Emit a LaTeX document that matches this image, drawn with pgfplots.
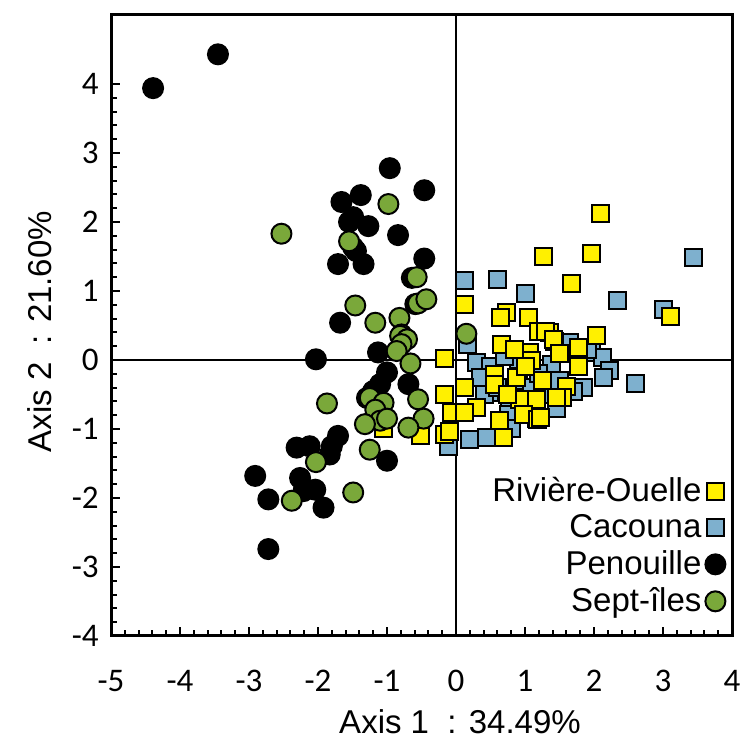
\documentclass[border=0pt]{standalone}
\usepackage{pgfplots}
\pgfplotsset{compat=1.18}
\usepackage{fontspec}
\setmainfont{Liberation Sans}
\newfontfamily\calibri{Carlito}
\definecolor{rouelle}{RGB}{255,240,0}
\definecolor{cacouna}{RGB}{126,176,206}
\definecolor{septiles}{RGB}{122,168,58}

\begin{document}
\begin{tikzpicture}
\begin{axis}[name=ax, scale only axis, width=310.5pt, height=310.5pt,
  xmin=-5, xmax=4, ymin=-4, ymax=5,
  xtick={-5,...,4}, ytick={-4,...,4},
  xticklabels={-5,-4,-3,-2,-1,0,1,2,3,4},
  yticklabels={-4,-3,-2,-1,0,1,2,3,4},
  minor tick num=4,
  tick align=inside, xtick pos=bottom, ytick pos=left,
  major tick length=4.5pt, minor tick length=3pt,
  tick style={black, line width=1pt},
  axis line style={line width=1.5pt},
  extra x ticks={0}, extra y ticks={0}, extra x tick labels={}, extra y tick labels={},
  extra tick style={grid=major, major grid style={black, line width=1pt}},
  ticklabel style={font=\calibri\fontsize{16.5}{16.5}\selectfont},
  xticklabel style={anchor=north, inner sep=0pt, yshift=-17pt},
  yticklabel style={anchor=east, inner sep=0pt, xshift=-6pt},
  xlabel={Axis 1\ \ : 34.49\%},
  xlabel style={at={(axis description cs:0.562,-0.138)}, anchor=center, font=\fontsize{16.5}{16.5}\selectfont},
  ylabel={Axis 2\ \ : 21.60\%},
  ylabel style={at={(axis description cs:-0.115,0.49)}, anchor=center, font=\fontsize{16.5}{16.5}\selectfont},
  legend style={draw=none, fill=none, at={(rel axis cs:0.99,0.027)}, anchor=south east,
    font=\fontsize{16.5}{16.5}\selectfont, row sep=1pt, inner sep=0pt},
  legend cell align=right,
  legend plot pos=right,
]
\addlegendimage{only marks, mark=square*, mark size=4.25pt, mark options={fill=rouelle, draw=black, line width=1pt}}
\addlegendentry{Rivière-Ouelle}
\addlegendimage{only marks, mark=square*, mark size=4.25pt, mark options={fill=cacouna, draw=black, line width=1pt}}
\addlegendentry{Cacouna}
\addlegendimage{only marks, mark=*, mark size=5pt, mark options={fill=black, draw=black, line width=1pt}}
\addlegendentry{Penouille}
\addlegendimage{only marks, mark=*, mark size=5pt, mark options={fill=septiles, draw=black, line width=1pt}}
\addlegendentry{Sept-îles}

% Cacouna
\addplot[only marks, mark=square*, mark size=4.25pt, mark options={fill=cacouna, draw=black, line width=1pt}, forget plot]
coordinates {
(0.12,1.15)(0.60,1.16)(1.00,0.97)(2.34,0.86)(3.00,0.73)(3.44,1.49)(0.16,0.23)(1.65,0.25)
(1.97,0.11)(2.12,0.03)(2.23,-0.15)(2.14,-0.26)(2.60,-0.34)(0.29,-0.04)(1.38,-0.06)(0.49,-0.47)
(0.78,-0.74)(0.42,-0.50)(0.76,-0.79)(0.81,-1.00)(0.20,-1.15)(0.44,-1.13)(-0.11,-1.25)(0.9,-0.3)
(1.1,-0.4)(1.3,-0.5)(1.5,-0.3)(0.6,-0.4)(1.2,-0.2)(0.5,-0.1)(0.9,0.0)(1.85,-0.4)(1.7,-0.45)
(1.9,0.15)(0.35,-0.25)(0.7,0.05)(1.45,-0.7)(1.05,-0.62)
};
% Riviere-Ouelle
\addplot[only marks, mark=square*, mark size=4.25pt, mark options={fill=rouelle, draw=black, line width=1pt}, forget plot]
coordinates {
(2.10,2.13)(1.27,1.50)(1.97,1.55)(1.67,1.11)(0.13,0.80)(0.73,0.69)(0.64,0.61)(1.05,0.61)
(1.19,0.41)(1.36,0.40)(2.03,0.36)(0.66,0.23)(1.07,0.11)(1.43,0.27)(1.77,0.18)(-0.16,0.02)
(1.77,-0.09)(1.10,-0.01)(0.56,-0.21)(0.88,-0.26)(1.60,-0.38)(1.55,-0.55)(0.92,-0.57)(-0.16,-0.50)
(0.13,-0.40)(0.30,-0.69)(-0.06,-0.76)(0.13,-0.76)(0.63,-0.88)(1.17,-0.85)(3.11,0.63)(0.56,-0.35)
(1.17,-0.57)(0.98,-0.79)(1.18,-0.86)(-0.16,-1.08)(-0.09,-1.03)(0.69,-1.13)(1.29,0.42)(1.41,0.30)
(1.46,-0.55)(1.22,-0.84)(-1.05,-1.00)(-0.52,-1.10)(0.85,0.15)(1.25,-0.3)(0.75,-0.5)(1.0,-0.1)(1.5,0.1)
};
% Penouille
\addplot[only marks, mark=*, mark size=5pt, mark options={fill=black, draw=black, line width=1pt}, forget plot]
coordinates {
(-4.39,3.94)(-3.45,4.43)(-0.96,2.78)(-0.46,2.46)(-1.38,2.39)(-1.66,2.29)(-1.49,2.07)(-1.55,2.00)
(-1.27,1.94)(-0.84,1.81)(-1.49,1.63)(-1.71,1.39)(-1.34,1.39)(-1.45,1.58)(-0.46,1.47)(-0.64,1.19)
(-0.59,0.81)(-1.68,0.54)(-2.03,0.01)(-1.13,0.11)(-1.00,-0.18)(-1.10,-0.35)(-0.69,-0.35)(-1.29,-0.55)
(-1.71,-1.10)(-1.80,-1.25)(-1.00,-1.46)(-2.31,-1.27)(-2.12,-1.25)(-1.83,-1.37)(-2.91,-1.68)(-2.26,-1.71)
(-2.04,-1.88)(-2.21,-1.90)(-2.72,-2.02)(-1.92,-2.14)(-2.72,-2.74)(-1.20,-0.45)
};
% Sept-iles
\addplot[only marks, mark=*, mark size=5pt, mark options={fill=septiles, draw=black, line width=1pt}, forget plot]
coordinates {
(-2.53,1.83)(-0.98,2.26)(-1.55,1.72)(-0.57,1.20)(-0.55,0.82)(-0.43,0.88)(-1.46,0.79)(-1.17,0.54)
(-0.82,0.61)(-0.79,0.37)(-0.81,0.35)(-0.71,0.30)(-0.79,0.23)(-0.86,0.13)(-0.66,-0.05)(-1.25,-0.55)
(-1.05,-0.62)(-0.55,-0.57)(-1.17,-0.72)(-1.87,-0.63)(-1.10,-0.88)(-1.00,-0.85)(-1.32,-0.93)(-0.47,-0.85)
(-0.69,-0.98)(-1.25,-1.30)(-1.49,-1.92)(-2.03,-1.48)(-2.38,-2.04)(0.15,0.38)
};
\end{axis}
\pgfresetboundingbox
\path ([shift={(-55.5pt,-55pt)}]ax.south west) rectangle ([shift={(4pt,7.5pt)}]ax.north east);
\end{tikzpicture}
\end{document}
